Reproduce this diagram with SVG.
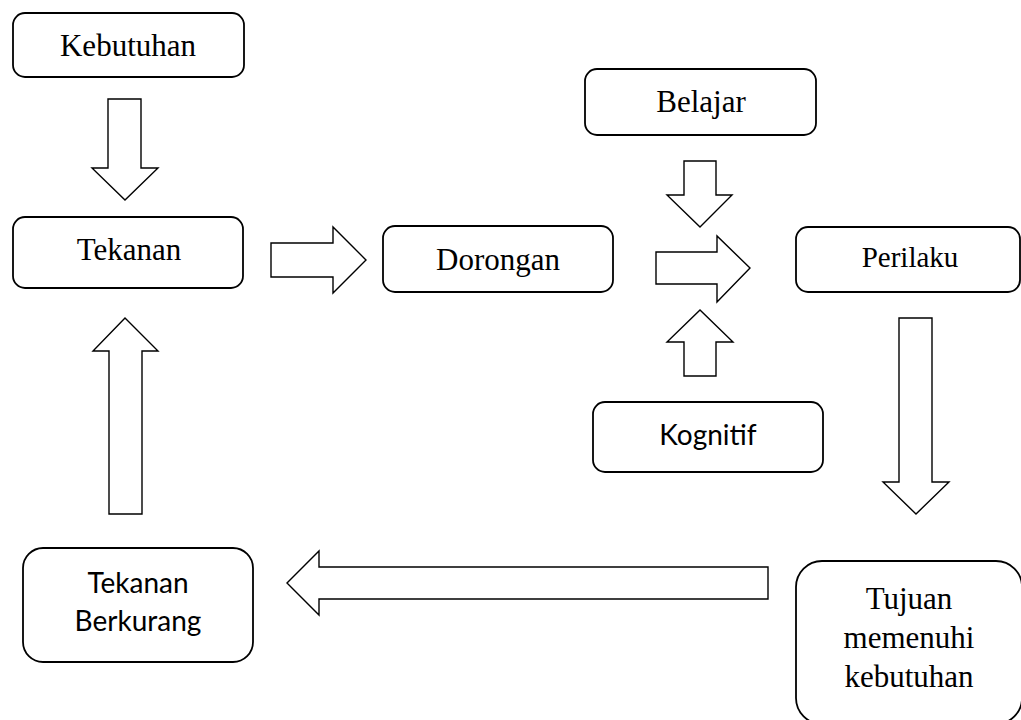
<svg xmlns="http://www.w3.org/2000/svg" width="1021" height="720" viewBox="0 0 1021 720">
<style>
.box{fill:#fff;stroke:#000;stroke-width:1.8}
.arr{fill:#fff;stroke:#000;stroke-width:1.4;stroke-linejoin:miter}
.serif{font-family:"Liberation Serif","Times New Roman",serif;font-size:31px;fill:#000;text-anchor:middle}
.sans{font-family:Lato,"Liberation Sans",sans-serif;font-size:28px;fill:#000;text-anchor:middle}
</style>
<rect width="1021" height="720" fill="#fff"/>
<g id="connectors">
<path class="arr" d="M108,99 H141 V168 H158 L125,200 L92,168 H108 Z"/>
<path class="arr" d="M271,243 H333 V227 L366,260 L333,293 V277 H271 Z"/>
<path class="arr" d="M684,161 H716 V195 H732 L700,227 L667,195 H684 Z"/>
<path class="arr" d="M656,252 H717 V236 L750,268 L717,302 V284 H656 Z"/>
<path class="arr" d="M684,376 V342 H667 L700,310 L733,342 H716 V376 Z"/>
<path class="arr" d="M899,318 H932 V482 H949 L916,514 L883,482 H899 Z"/>
<path class="arr" d="M768,567 V599 H319 V615 L287,583 L319,551 V567 Z"/>
<path class="arr" d="M109,514 V351 H93 L125,318 L158,351 H142 V514 Z"/>
</g>
<g id="kebutuhan"><rect class="box" x="13" y="13" width="231" height="64" rx="12"/><text class="serif" x="128" y="56">Kebutuhan</text></g>
<g id="tekanan"><rect class="box" x="13" y="217" width="230" height="71" rx="12"/><text class="serif" x="129" y="260">Tekanan</text></g>
<g id="dorongan"><rect class="box" x="383" y="226" width="230" height="66" rx="12"/><text class="serif" x="498" y="270">Dorongan</text></g>
<g id="belajar"><rect class="box" x="585" y="69" width="231" height="66" rx="12"/><text class="serif" x="701" y="112">Belajar</text></g>
<g id="perilaku"><rect class="box" x="796" y="227" width="224" height="65" rx="12"/><text class="serif" x="910" y="267" style="font-size:29px">Perilaku</text></g>
<g id="kognitif"><rect class="box" x="593" y="402" width="230" height="70" rx="12"/><text class="sans" x="708" y="445">Kognitif</text></g>
<g id="tekanan-berkurang"><rect class="box" x="23" y="548" width="230" height="114" rx="20"/><text class="sans" x="138" y="593">Tekanan</text><text class="sans" x="138" y="631">Berkurang</text></g>
<g id="tujuan"><rect class="box" x="796" y="561" width="226" height="163" rx="26"/><text class="serif" x="909" y="609">Tujuan</text><text class="serif" x="909" y="648">memenuhi</text><text class="serif" x="909" y="687">kebutuhan</text></g>
</svg>
